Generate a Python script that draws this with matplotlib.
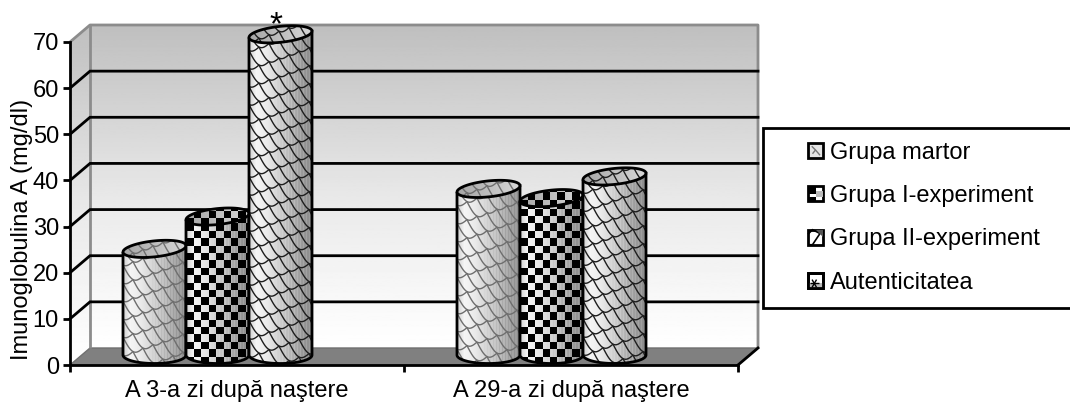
import numpy as np
import matplotlib
matplotlib.use("Agg")
import matplotlib.pyplot as plt
from matplotlib.collections import LineCollection
from matplotlib.legend_handler import HandlerBase
from matplotlib.patches import PathPatch, Patch, Rectangle, Polygon
from matplotlib.path import Path
from matplotlib.transforms import IdentityTransform

plt.rcParams["font.family"] = ["Liberation Sans", "DejaVu Sans"]

# ------------------------------
# Values
# ------------------------------
days = ["A 3-a zi după naştere", "A 29-a zi după naştere"]
series_names = ["Grupa martor", "Grupa I-experiment", "Grupa II-experiment", "Autenticitatea"]
grupa_martor = [23, 36]
grupa_1 = [30, 34]
grupa_2 = [69.5, 38.7]
y_ticks = [0, 10, 20, 30, 40, 50, 60, 70]
y_title = "Imunoglobulina A (mg/dl)"

# ------------------------------
# Figure and 3D-look geometry (pixels)
# ------------------------------
W, H = 1070, 404
FS = 17
LW = 2.0
fig = plt.figure(figsize=(W / 100, H / 100), dpi=100)
ax = fig.add_axes([70 / W, (H - 365) / H, 668 / W, 323 / H])
ax.set_xlim(0, 2)
ax.set_ylim(0, 70)
ax.autoscale(False)
ax.patch.set_visible(False)

PX = IdentityTransform()
DEPTH_X, DEPTH_Y = 20, 17
BAR_DX, BAR_DY = 12, 10
z = [3]


def next_z():
    z[0] += 1
    return z[0]


def to_disp(x, y):
    return ax.transData.transform((x, y))


def clip_to(artist, patch):
    # images fall back to the axes box when the clip box is None
    artist.set_clip_box(fig.bbox)
    artist.set_clip_path(patch)


def add_clip_shape(verts):
    shape = PathPatch(Path(verts, closed=False), fc="none", ec="none", transform=PX, clip_on=False)
    ax.add_patch(shape)
    return shape


# ------------------------------
# Walls and floor
# ------------------------------
def draw_walls():
    x0, y0 = to_disp(0, 0)
    x1, y_top = to_disp(2, 70)
    bx0, bx1 = x0 + DEPTH_X, x1 + DEPTH_X
    by0, by1 = y0 + DEPTH_Y, y_top + DEPTH_Y

    ramp = np.interp(np.linspace(0, 1, 256), [0, 0.45, 1], [255, 234, 191])[:, None]
    back = add_clip_shape(np.array([[bx0, by0], [bx1, by0], [bx1, by1], [bx0, by1], [bx0, by0]]))
    im = ax.imshow(ramp, cmap="gray", vmin=0, vmax=255, origin="lower", aspect="auto",
                   extent=(bx0, bx1, by0, by1), transform=PX, zorder=0)
    clip_to(im, back)

    left = add_clip_shape(np.array([[x0, y0], [bx0, by0], [bx0, by1], [x0, y_top], [x0, y0]]))
    im = ax.imshow(ramp, cmap="gray", vmin=0, vmax=255, origin="lower", aspect="auto",
                   extent=(x0, bx0, y0, by1), transform=PX, zorder=0)
    clip_to(im, left)

    # floor
    ax.add_patch(Polygon([[x0, y0], [bx0, by0], [bx1, by0], [x1, y0]], closed=True, fc="#808080",
                         ec="#707070", lw=1, transform=PX, clip_on=False, zorder=1))

    # wall edges
    edges = [[(x0, y_top), (bx0, by1), (bx1, by1), (bx1, by0)], [(bx0, by1), (bx0, by0)]]
    ax.add_collection(LineCollection(edges, colors="#8c8c8c", linewidths=LW, transform=PX,
                                     clip_on=False, zorder=2))

    # gridlines run over the left wall and the back wall
    for v in y_ticks[1:-1]:
        _, yy = to_disp(0, v)
        ax.plot([x0, bx0, bx1], [yy, yy + DEPTH_Y, yy + DEPTH_Y], color="black", lw=LW,
                transform=PX, clip_on=False, zorder=2, solid_joinstyle="miter")

    # right end of the category axis
    ax.plot([x1, bx1], [y0, by0], color="black", lw=LW, transform=PX, clip_on=False, zorder=2)


# ------------------------------
# Cylinder drawing
# ------------------------------
def shade_row(xs, left, width, top_face=False):
    u = (xs + 0.5 - left) / width
    if top_face:
        vals = np.interp(u, [0, 0.5, 1], [165, 190, 215])
    else:
        vals = np.interp(u, [0, 0.12, 0.3, 0.6, 0.85, 1], [205, 245, 232, 195, 160, 145])
        stripes = np.where(np.sin(xs * 2.1) > 0, 7, -7) * np.clip((u - 0.35) * 3, 0, 1)
        vals = vals + stripes
    return vals


def scale_lines(x0, x1, y0, y1):
    # staggered, slanted scales
    P, Q, slope, drop = 20, 9, 0.55, 9
    u = np.linspace(0, 1, 14)
    lines = []
    span = (x1 - x0) * slope
    rows = int((y1 - y0 + span) / Q) + 6
    for j in range(rows):
        y_row = y1 + 2 * Q - j * Q + span
        for i in range(-2, int((x1 - x0) / P) + 3):
            xs = x0 + (i + 0.5 * (j % 2)) * P + u * P
            ys = y_row - slope * (xs - x0) - drop * np.sin(np.pi * u)
            lines.append(np.column_stack([xs, ys]))
    return lines


def face_image(x0, x1, y0, y1, left, width, kind, top_face):
    xs = np.arange(int(np.floor(x0)), int(np.ceil(x1)))
    ys = np.arange(int(np.floor(y0)), int(np.ceil(y1)))
    row = shade_row(xs, left, width, top_face)
    img = np.tile(row, (len(ys), 1))
    if kind == "checker":
        step = 7.4
        ox = np.floor((xs - left) / step).astype(int)
        oy = np.floor((ys - y0) / step).astype(int)
        img[(ox[None, :] + oy[:, None]) % 2 == 0] = 0
    extent = (xs[0], xs[-1] + 1, ys[0], ys[-1] + 1)
    return img, extent


def draw_cylinder(x_data, value, width_data, kind, line_color):
    base_x, base_y = to_disp(x_data, 0)
    right_x, top_y = to_disp(x_data + width_data, value)
    left = base_x + BAR_DX
    width = right_x - base_x
    a = width / 2
    cx = left + a
    by = base_y + BAR_DY
    ty = top_y + BAR_DY
    b_top, b_bot, tilt = 8, 8.5, 0.1

    t = np.linspace(np.pi, 2 * np.pi, 60)
    body = [(left, ty - tilt * a)] + [(cx + a * np.cos(k), by + b_bot * np.sin(k)) for k in t]
    body += [(left + width, ty + tilt * a), (left, ty - tilt * a)]
    body = np.array(body)

    clip = add_clip_shape(body)
    img, ext = face_image(left, left + width, by - b_bot - 1, ty + tilt * a + 1, left, width, kind, False)
    im = ax.imshow(img, cmap="gray", vmin=0, vmax=255, origin="lower", aspect="auto",
                   extent=ext, transform=PX, interpolation="nearest", zorder=next_z())
    clip_to(im, clip)
    if kind == "scales":
        lc = LineCollection(scale_lines(left, left + width, by - b_bot, ty + tilt * a), colors=line_color,
                            linewidths=1.0, transform=PX, zorder=next_z())
        ax.add_collection(lc)
        clip_to(lc, clip)
    ax.add_patch(PathPatch(Path(body), fc="none", ec="black", lw=LW, transform=PX,
                           clip_on=False, zorder=next_z()))

    # top face
    t = np.linspace(0, 2 * np.pi, 90)
    top = np.column_stack([cx + a * np.cos(t), ty + tilt * a * np.cos(t) + b_top * np.sin(t)])
    clip = add_clip_shape(top)
    img, ext = face_image(left, left + width, top[:, 1].min() - 1, top[:, 1].max() + 1, left, width, kind, True)
    im = ax.imshow(img, cmap="gray", vmin=0, vmax=255, origin="lower", aspect="auto",
                   extent=ext, transform=PX, interpolation="nearest", zorder=next_z())
    clip_to(im, clip)
    if kind == "scales":
        lc = LineCollection(scale_lines(left, left + width, ty - 12, ty + 12), colors=line_color,
                            linewidths=1.0, transform=PX, zorder=next_z())
        ax.add_collection(lc)
        clip_to(lc, clip)
    ax.add_patch(PathPatch(Path(top), fc="none", ec="black", lw=LW, transform=PX,
                           clip_on=False, zorder=next_z()))
    return cx, ty


# ------------------------------
# Legend keys
# ------------------------------
class KeyHandler(HandlerBase):
    def __init__(self, style):
        super().__init__()
        self.style = style

    def create_artists(self, legend, orig_handle, xdescent, ydescent, width, height, fontsize, trans):
        s = width
        y = (height - s) / 2
        parts = [Rectangle((0, y), s, s, fc="#e4e4e4" if self.style == 0 else "white", ec="black", lw=LW)]
        if self.style == 0:
            parts.append(Polygon([(s * .25, y + s * .8), (s * .5, y + s * .55), (s * .8, y + s * .2)],
                                 closed=False, fill=False, ec="#777777", lw=1))
            parts.append(Polygon([(s * .5, y + s * .55), (s * .3, y + s * .3)],
                                 closed=False, fill=False, ec="#777777", lw=1))
        elif self.style == 1:
            parts.append(Rectangle((0, y + s * .5), s * .5, s * .5, fc="black", ec="none"))
            parts.append(Rectangle((0, y), s * .55, s * .28, fc="black", ec="none"))
            parts.append(Rectangle((s * .55, y + s * .28), s * .45, s * .4, fc="#bbbbbb", ec="none"))
        elif self.style == 2:
            parts.append(Polygon([(0, y), (s * .3, y), (s * .8, y + s * .75), (s * .3, y + s), (0, y + s * .7)],
                                 closed=False, fill=False, ec="black", lw=1.2))
            parts.append(Polygon([(s * .55, y + s * .95), (s, y + s * .95), (s, y + s * .5)], closed=True,
                                 fc="#555555", ec="none"))
        else:
            parts.append(Rectangle((0, y), s, s * .35, fc="#bbbbbb", ec="none"))
            cx, cy = s * .42, y + s * .3
            for ang in np.deg2rad([0, 60, 120]):
                dx, dy = s * .3 * np.cos(ang), s * .3 * np.sin(ang)
                parts.append(Polygon([(cx - dx, cy - dy), (cx + dx, cy + dy)], closed=False,
                                     fill=False, ec="black", lw=1))
            parts.append(Rectangle((0, y), s, s, fc="none", ec="black", lw=LW))
        for p in parts:
            p.set_transform(trans)
        return parts


# ------------------------------
# Main drawing
# ------------------------------
def main():
    draw_walls()

    bar_w = 63 / 334
    kinds = ["scales", "checker", "scales"]
    colors = ["#6e6e6e", "black", "#1e1e1e"]
    values = [grupa_martor, grupa_1, grupa_2]
    star_pos = None
    for g in range(len(days)):
        for s in range(3):
            x = g + 0.5 - 2 * bar_w + s * bar_w
            cx, ty = draw_cylinder(x, values[s][g], bar_w, kinds[s], colors[s])
            if g == 0 and s == 2:
                star_pos = (cx, ty)

    # significance mark above the tallest cylinder
    ax.text(star_pos[0] - 5, star_pos[1] + 9, "*", transform=PX, ha="center", va="center",
            fontsize=24, color="black", clip_on=False, family="Liberation Sans", zorder=next_z())

    for side in ["top", "right"]:
        ax.spines[side].set_visible(False)
    for side in ["left", "bottom"]:
        ax.spines[side].set_linewidth(LW)
        ax.spines[side].set_zorder(3)

    ax.set_yticks(y_ticks)
    ax.set_xticks([0, 1, 2])
    ax.set_xticklabels([])
    ax.set_xticks([0.5, 1.5], minor=True)
    ax.set_xticklabels(days, minor=True, fontsize=FS)
    ax.tick_params(axis="x", which="major", length=5, width=LW)
    ax.tick_params(axis="x", which="minor", length=0, pad=11)
    ax.tick_params(axis="y", length=5, width=LW, labelsize=17, pad=3)
    ax.set_ylabel(y_title, fontsize=FS)
    ax.yaxis.set_label_coords(-37 / 668, 0.42)

    # legend frame runs off the right side of the figure
    fig.add_artist(Rectangle((763, H - 308), 340, 180, fc="white", ec="black", lw=LW,
                             transform=PX, clip_on=False, zorder=1))
    handles = [Patch(label=n) for n in series_names]
    hmap = {h: KeyHandler(i) for i, h in enumerate(handles)}
    fig.legend(handles=handles, labels=series_names, handler_map=hmap, loc="upper left",
               bbox_to_anchor=(808 / W, (H - 142) / H), frameon=False, fontsize=FS, borderpad=0,
               borderaxespad=0, handlelength=15 / (FS * 100 / 72), handleheight=0.7,
               handletextpad=7 / (FS * 100 / 72), labelspacing=0.9).set_zorder(5)

    fig.savefig("out.png", dpi=100)


if __name__ == "__main__":
    main()
